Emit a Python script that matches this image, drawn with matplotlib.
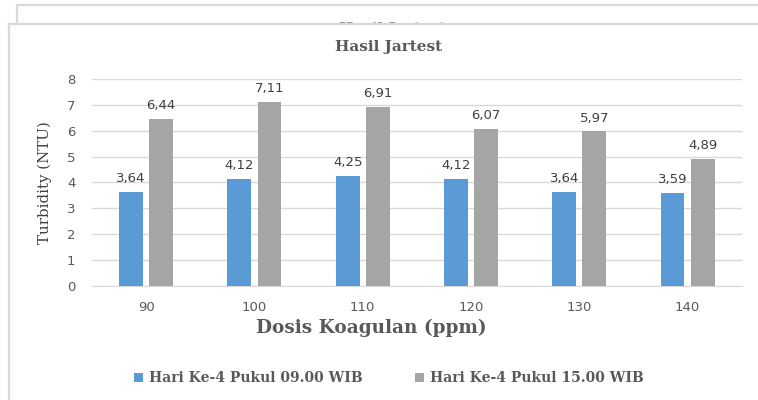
import matplotlib
matplotlib.use("Agg")
import matplotlib.pyplot as plt
import numpy as np
from matplotlib.patches import Rectangle
from matplotlib.lines import Line2D

# ── Data ────────────────────────────────────────────────────────────────────
dosis = ["90", "100", "110", "120", "130", "140"]
pagi  = [3.64, 4.12, 4.25, 4.12, 3.64, 3.59]   # Hari Ke-4 Pukul 09.00 WIB
sore  = [6.44, 7.11, 6.91, 6.07, 5.97, 4.89]   # Hari Ke-4 Pukul 15.00 WIB
series_names = ["Hari Ke-4 Pukul 09.00 WIB", "Hari Ke-4 Pukul 15.00 WIB"]
y_ticks = [0, 1, 2, 3, 4, 5, 6, 7, 8]

W, H = 758, 400
TXT = "#595959"
FRAME = "#d9d9d9"
SERIF = "DejaVu Serif"
SANS = "DejaVu Sans"

fig = plt.figure(figsize=(W / 100, H / 100), dpi=100)


def px(x, y):
    """pixel position (from top-left) -> figure fraction"""
    return x / W, 1 - y / H


def frame(x0, y0, z):
    # white panel + top/left border only (the rest runs off the canvas)
    fig.patches.append(Rectangle(px(x0, y0), 1.2, -1.2, transform=fig.transFigure,
                                 fc="white", ec="none", zorder=z))
    (fx, fy) = px(x0, y0)
    fig.add_artist(Line2D([fx, 1.1], [fy, fy], transform=fig.transFigure,
                          color=FRAME, lw=1.6, zorder=z + 0.1))
    fig.add_artist(Line2D([fx, fx], [fy, -0.1], transform=fig.transFigure,
                          color=FRAME, lw=1.6, zorder=z + 0.1))


# ── Stacked chart frames (screenshot look) ─────────────────────────────────
frame(16.7, 4.7, 0.5)
fig.text(*px(393, 21.5), "Hasil Jartest", ha="center", va="top", family=SERIF,
         fontweight="bold", fontsize=11, color="#8c8c8c", zorder=1)
frame(8.7, 23.7, 2)

# ── Chart ──────────────────────────────────────────────────────────────────
ax = fig.add_axes([92 / W, 1 - 285.7 / H, (741.7 - 92) / W, (285.7 - 79) / H])
ax.set_zorder(5)
ax.patch.set_alpha(0)

x = np.arange(len(dosis))
w, gap = 0.22, 0.058
off = (w + gap) / 2
b1 = ax.bar(x - off, pagi, w, color="#5B9BD5", label=series_names[0], zorder=3)
b2 = ax.bar(x + off, sore, w, color="#A5A5A5", label=series_names[1], zorder=3)

for bars, vals in [(b1, pagi), (b2, sore)]:
    for r, v in zip(bars, vals):
        ax.annotate(f"{v:.2f}".replace(".", ","), (r.get_x() + r.get_width() / 2, v),
                    xytext=(0, 5), textcoords="offset points", ha="center", va="bottom",
                    fontsize=9.5, color="#404040", family=SANS)

ax.set_xlim(-0.5, len(dosis) - 0.5)
ax.set_ylim(0, 8)
ax.set_yticks(y_ticks)
ax.set_xticks(x)
ax.set_xticklabels(dosis)
ax.tick_params(axis="both", length=0, labelsize=9.5, labelcolor=TXT)
ax.tick_params(axis="y", pad=12)
ax.tick_params(axis="x", pad=11)
for lbl in ax.get_xticklabels() + ax.get_yticklabels():
    lbl.set_family(SANS)
ax.grid(axis="y", color=FRAME, lw=1, zorder=0)
for s in ["top", "right", "left"]:
    ax.spines[s].set_visible(False)
ax.spines["bottom"].set_color(FRAME)

fig.text(*px(388.5, 47.5), "Hasil Jartest", ha="center", va="center", family=SERIF,
         fontweight="bold", fontsize=11, color=TXT, zorder=6)
fig.text(*px(45, 183), "Turbidity (NTU)", ha="center", va="center", rotation=90,
         family=SERIF, fontsize=10.8, color="#404040", zorder=6)
fig.text(*px(371, 328), "Dosis Koagulan (ppm)", ha="center", va="center",
         family=SERIF, fontweight="bold", fontsize=13.3, color=TXT, zorder=6)

leg = fig.legend(handles=[b1, b2], loc="center", bbox_to_anchor=px(389, 378), ncol=2,
                 frameon=False, handlelength=0.6, handleheight=0.6, handletextpad=0.45,
                 columnspacing=3.8, borderpad=0,
                 prop=dict(family=SERIF, weight="bold", size=10))
for t in leg.get_texts():
    t.set_color(TXT)
leg.set_zorder(6)

fig.savefig("out.png", dpi=100)
